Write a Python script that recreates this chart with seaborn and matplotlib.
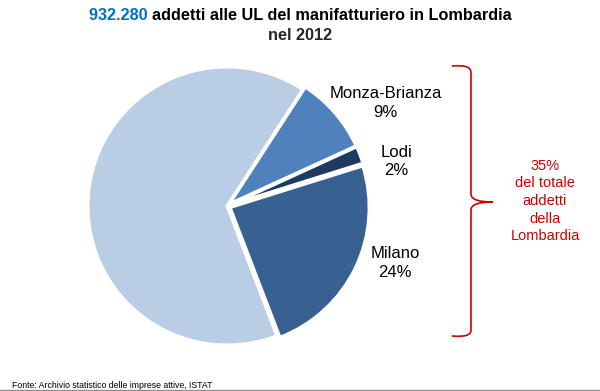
import numpy as np
import seaborn as sns
import matplotlib
matplotlib.use("Agg")
from matplotlib import pyplot as plt
from matplotlib.path import Path
from matplotlib.patches import PathPatch

sns.set_theme(style="white")
plt.rcParams['font.family'] = ['Liberation Sans', 'DejaVu Sans']

# data
provinces = ["Monza-Brianza", "Lodi", "Milano", "Resto della Lombardia"]
shares = [9, 2, 24, 65]
show_label = [True, True, True, False]
total_addetti = "932.280"
share_city = "35%"

colors = sns.color_palette(["#4F81BD", "#1F3A5F", "#386192", "#B9CDE5"])

W, H = 600, 391
fig = plt.figure(figsize=(W / 100, H / 100), dpi=100)

# pie center / radius in pixels
cx, cy, r = 227, 206, 139
ax = fig.add_axes([0, 0, 1, 1])

wedges, _ = ax.pie(shares, colors=colors, startangle=57, counterclock=False,
                   explode=[0.025, 0.025, 0.025, 0.0],
                   wedgeprops=dict(edgecolor="white", linewidth=2.2))
ax.set_xlim(-cx / r, (W - cx) / r)
ax.set_ylim(-(H - cy) / r, cy / r)
ax.set_aspect("auto")
ax.axis("off")

# labels
label_pos = {"Monza-Brianza": (1.14, 0.74), "Lodi": (1.22, 0.32), "Milano": (1.21, -0.41)}
for name, val, show in zip(provinces, shares, show_label):
    if not show:
        continue
    x, y = label_pos[name]
    ax.text(x, y, f"{name}\n{val}%", ha="center", va="center", fontsize=12,
            color="black", linespacing=1.3)


def px(x, y):
    return ((x - cx) / r, (cy - y) / r)


# brace
red = "#D00000"
verts = [px(452, 66), px(466, 65), px(471, 67), px(471, 73),
         px(471, 194),
         px(471, 200), px(480, 202), px(493, 202),
         px(480, 202), px(471, 204), px(471, 210),
         px(471, 330),
         px(471, 335), px(466, 337), px(452, 336)]
codes = [Path.MOVETO, Path.CURVE4, Path.CURVE4, Path.CURVE4,
         Path.LINETO,
         Path.CURVE4, Path.CURVE4, Path.CURVE4,
         Path.CURVE4, Path.CURVE4, Path.CURVE4,
         Path.LINETO,
         Path.CURVE4, Path.CURVE4, Path.CURVE4]
ax.add_patch(PathPatch(Path(verts, codes), facecolor="none", edgecolor=red, lw=1.2))

tx, ty = px(545, 201)
ax.text(tx, ty, f"{share_city}\ndel totale\naddetti\ndella\nLombardia", ha="center", va="center",
        fontsize=10.5, color=red, linespacing=1.33)

# title
renderer = fig.canvas.get_renderer()
t1 = fig.text(0, 1 - 16 / H, total_addetti + " ", fontsize=11.7, fontweight="bold",
              color="#0070C0", va="center", ha="left")
t2 = fig.text(0, 1 - 16 / H, "addetti alle UL del manifatturiero in Lombardia", fontsize=11.7,
              fontweight="bold", color="black", va="center", ha="left")
w1 = t1.get_window_extent(renderer).width
w2 = t2.get_window_extent(renderer).width
x0 = (W - w1 - w2) / 2
t1.set_x(x0 / W)
t2.set_x((x0 + w1) / W)
fig.text(0.5, 1 - 36 / H, "nel 2012", fontsize=11.7, fontweight="bold", ha="center", va="center")

# footer
fig.text(12 / W, 1 - 385 / H, "Fonte: Archivio statistico delle imprese attive, ISTAT",
         fontsize=6.3, color="black", ha="left", va="center")
fig.add_artist(plt.Line2D([0, 1], [1 - 390 / H, 1 - 390 / H], color="#909090", lw=1))

fig.savefig("out.png", dpi=100)
